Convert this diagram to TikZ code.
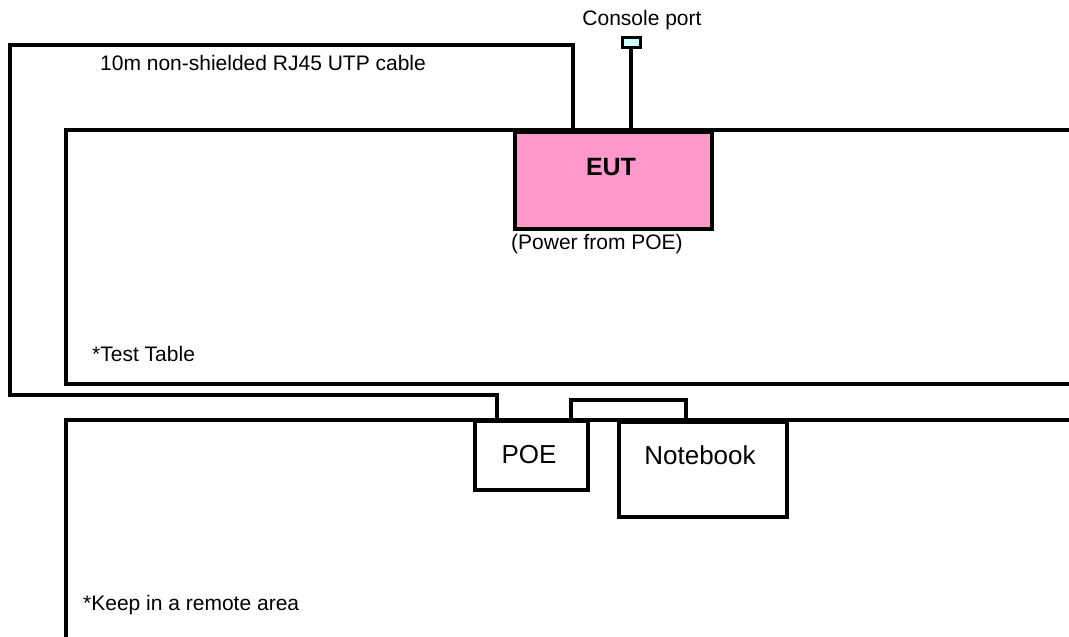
\documentclass[tikz,border=0pt]{standalone}
\usepackage{fontspec}
\setmainfont{Liberation Sans}
\definecolor{eutpink}{HTML}{FF99CC}
\definecolor{portcyan}{HTML}{CCFFFF}
\begin{document}
\begin{tikzpicture}[x=1pt,y=-1pt,
  wire/.style={line width=3.5pt,line join=miter},
  box/.style={draw,line width=3.5pt,inner sep=0pt,anchor=north west},
  lbl/.style={inner sep=0pt,font=\fontsize{21}{25}\selectfont},
  big/.style={inner sep=0pt,font=\fontsize{26}{30}\selectfont}]
\useasboundingbox (0,0) rectangle (1069,637);
% test table and remote area
\draw[wire] (1072,130) -- (66,130) -- (66,384) -- (1072,384);
\draw[wire] (1072,420) -- (66,420) -- (66,640);
% EUT
\node[box,fill=eutpink,minimum width=197pt,minimum height=97pt] (eut) at (513,130) {};
\node[big,font=\bfseries\fontsize{25}{29}\selectfont] (eutl) at (611,167) {EUT};
\node[lbl,anchor=west] (pw) at (511,244) {(Power from POE)};
% console port
\node[draw,line width=3pt,fill=portcyan,minimum width=18pt,minimum height=10pt,inner sep=0pt] (cp) at (631,42) {};
\node[lbl] (cpl) at (642,20) {Console port};
\coordinate (cpb) at (631,130);
\draw[wire] (cp.south) -- (cpb);
% POE and Notebook
\node[box,minimum width=113pt,minimum height=69pt] (poe) at (473,419) {};
\node[big] (poel) at (529,455) {POE};
\node[box,minimum width=168pt,minimum height=95pt] (nb) at (617,420) {};
\node[big] (nbl) at (700,455) {Notebook};
% cable
\coordinate (ct) at (573,130);
\draw[wire] (ct) -- (573,45) -- (10,45) -- (10,395) -- (497,395) -- (497,419);
% POE-notebook link
\draw[wire] (571,420) -- (571,400) -- (686,400) -- (686,420);
% labels
\node[lbl,anchor=west] at (100,63) {10m non-shielded RJ45 UTP cable};
\node[lbl,anchor=west] at (92,354) {*Test Table};
\node[lbl,anchor=west] at (83,605) {*Keep in a remote area};
\end{tikzpicture}
\end{document}
